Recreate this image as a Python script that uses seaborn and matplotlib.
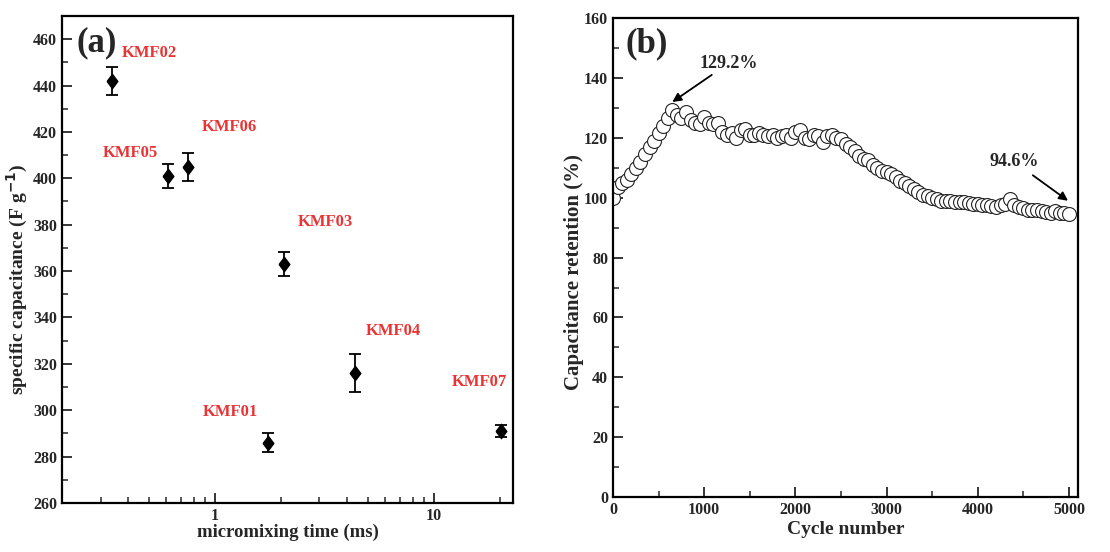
import numpy as np
import pandas as pd
import matplotlib
matplotlib.use('Agg')
import matplotlib.pyplot as plt
from matplotlib.ticker import MultipleLocator, LogLocator, NullFormatter, FixedLocator
import seaborn as sns

# panel (a): specific capacitance vs micromixing time
samples = ['KMF02', 'KMF05', 'KMF06', 'KMF03', 'KMF01', 'KMF04', 'KMF07']
mix_time = [0.337, 0.61, 0.75, 2.07, 1.75, 4.38, 20.2]
capacitance = [442, 401, 405, 363, 286, 316, 291]
cap_err = [6, 5, 6, 5, 4, 8, 2.5]
# where the red sample names sit (data coords)
label_x = [0.374, 0.306, 0.871, 2.38, 0.88, 4.88, 12.1]
label_y = [454, 411, 422, 381, 299, 334, 312]

# panel (b): capacitance retention over cycling
cycles = list(range(0, 5001, 50))
retention = [
    100, 103.5, 105, 106, 108, 110, 112, 114.5, 117, 119,
    121.5, 124, 126.5, 129.2, 127.5, 126.5, 128.5, 126, 125, 124.5,
    127, 125, 124.5, 125, 122, 121, 121.5, 120, 122.5, 123,
    121, 121, 121.5, 121, 120.5, 121, 120, 120.5, 121, 120,
    122, 122.5, 120, 119.5, 121, 120.5, 118.5, 120.5, 121, 120,
    119.5, 118, 117, 115.5, 114, 113, 112.5, 111, 110, 109,
    108.5, 108, 107, 105.5, 105, 104, 103, 102, 101, 100.5,
    100, 99.5, 99, 99, 98.8, 98.5, 98.7, 98.5, 98.3, 98,
    97.8, 97.5, 97.5, 97.3, 97, 97.5, 97.8, 99.5, 97.5, 97,
    96.5, 96, 96, 95.8, 95.5, 95.2, 95, 95.5, 95, 94.8,
    94.6,
]

sns.set_style('ticks')
plt.rcParams['font.family'] = ['Liberation Serif', 'DejaVu Serif']
plt.rcParams['font.weight'] = 'bold'
plt.rcParams['axes.labelweight'] = 'bold'
plt.rcParams['axes.linewidth'] = 1.6

fig = plt.figure(figsize=(11.1, 5.52), dpi=100)
ax1 = fig.add_axes([0.0559, 0.089, 0.4063, 0.882])
ax2 = fig.add_axes([0.5523, 0.0996, 0.4189, 0.8674])

df_a = pd.DataFrame({'time': mix_time, 'cap': capacitance, 'err': cap_err})
diamond = [(-0.75, 0), (0, 1), (0.75, 0), (0, -1), (-0.75, 0)]
ax1.errorbar(df_a['time'], df_a['cap'], yerr=df_a['err'], fmt='none',
             ecolor='black', elinewidth=1.3, capsize=4, capthick=1.3)
sns.scatterplot(data=df_a, x='time', y='cap', marker=diamond, s=110,
                color='black', edgecolor='black', ax=ax1, zorder=3)
ax1.set_xscale('log')
ax1.set_xlim(0.2, 23)
ax1.set_ylim(260, 470)
ax1.yaxis.set_major_locator(MultipleLocator(20))
ax1.yaxis.set_minor_locator(MultipleLocator(10))
ax1.xaxis.set_major_locator(FixedLocator([1, 10]))
ax1.xaxis.set_major_formatter(plt.FuncFormatter(lambda v, p: '%d' % v))
ax1.xaxis.set_minor_locator(LogLocator(base=10, subs=np.arange(2, 10)))
ax1.xaxis.set_minor_formatter(NullFormatter())
for name, lx, ly in zip(samples, label_x, label_y):
    ax1.text(lx, ly, name, color='#e83434', fontsize=12, fontweight='bold', va='center')
ax1.text(0.033, 0.945, '(a)', transform=ax1.transAxes, fontsize=25,
         fontweight='bold', va='center')
ax1.set_xlabel('micromixing time (ms)', fontsize=13.5, labelpad=0)
ax1.set_ylabel('specific capacitance (F g$^{\\mathbf{-1}}$)', fontsize=14)
ax1.yaxis.set_label_coords(-0.072, 0.46)

df_b = pd.DataFrame({'cycle': cycles, 'ret': retention})
sns.scatterplot(data=df_b, x='cycle', y='ret', marker='o', s=100,
                facecolor='white', edgecolor='#222222', linewidth=0.8, ax=ax2)
ax2.set_xlim(0, 5100)
ax2.set_ylim(0, 160)
ax2.xaxis.set_major_locator(MultipleLocator(1000))
ax2.xaxis.set_minor_locator(MultipleLocator(500))
ax2.yaxis.set_major_locator(MultipleLocator(20))
ax2.yaxis.set_minor_locator(MultipleLocator(10))
ax2.annotate('129.2%', xy=(650, 132), xytext=(950, 145), fontsize=13,
             fontweight='bold', va='center',
             arrowprops=dict(arrowstyle='-|>', color='black', lw=1.3, shrinkA=0, shrinkB=0))
ax2.annotate('94.6%', xy=(4990, 99), xytext=(4130, 112), fontsize=13,
             fontweight='bold', va='center',
             arrowprops=dict(arrowstyle='-|>', color='black', lw=1.3, shrinkA=2, shrinkB=0))
ax2.text(0.026, 0.946, '(b)', transform=ax2.transAxes, fontsize=25,
         fontweight='bold', va='center')
ax2.set_xlabel('Cycle number', fontsize=14, labelpad=2)
ax2.set_ylabel('Capacitance retention (%)', fontsize=15)
ax2.yaxis.set_label_coords(-0.062, 0.47)

for ax in (ax1, ax2):
    ax.tick_params(which='major', direction='in', length=7, width=1.3,
                   labelsize=11.5, top=False, right=False)
    ax.tick_params(which='minor', direction='in', length=4, width=1.1,
                   top=False, right=False)
    for lab in ax.get_xticklabels() + ax.get_yticklabels():
        lab.set_fontweight('bold')
    for sp in ax.spines.values():
        sp.set_visible(True)
        sp.set_color('black')
    if ax.get_legend() is not None:
        ax.get_legend().remove()

fig.savefig('out.png', dpi=100)
